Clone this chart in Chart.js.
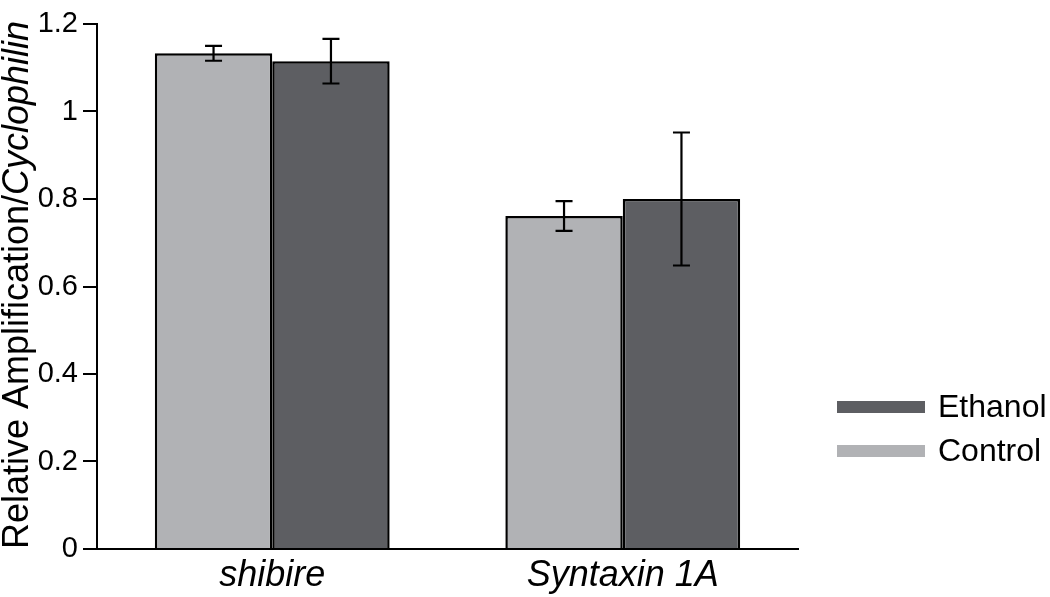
<!DOCTYPE html>
<html>
<head>
<meta charset="utf-8">
<script src="https://cdn.jsdelivr.net/npm/chart.js@4/dist/chart.umd.min.js"></script>
<style>
  html, body { margin: 0; padding: 0; background: #fff; }
  #wrap { width: 1050px; height: 597px; position: relative; }
</style>
</head>
<body>
<div id="wrap"><canvas id="chart"></canvas></div>
<script>
// values
const genes = ["shibire", "Syntaxin 1A"];
const controlMean = [1.133, 0.761];
const controlErr = [0.017, 0.034];
const ethanolMean = [1.115, 0.800];
const ethanolErr = [0.051, 0.152];
const yTicks = [0, 0.2, 0.4, 0.6, 0.8, 1, 1.2];

const FONT = "'Liberation Sans', Arial, Helvetica, sans-serif";
const lightGray = "#b1b2b5";
const darkGray = "#5d5e62";

// error bars drawn on top of each bar
const errorBars = {
  id: "errorBars",
  afterDatasetsDraw(chart) {
    const ctx = chart.ctx;
    const y = chart.scales.y;
    chart.data.datasets.forEach((ds, i) => {
      const meta = chart.getDatasetMeta(i);
      meta.data.forEach((bar, j) => {
        const m = ds.data[j], e = ds.errors[j];
        const top = y.getPixelForValue(m + e);
        const bot = y.getPixelForValue(m - e);
        ctx.save();
        ctx.strokeStyle = "#000";
        ctx.lineWidth = 2.2;
        ctx.beginPath();
        ctx.moveTo(bar.x, top); ctx.lineTo(bar.x, bot);
        ctx.moveTo(bar.x - 8.5, top); ctx.lineTo(bar.x + 8.5, top);
        ctx.moveTo(bar.x - 8.5, bot); ctx.lineTo(bar.x + 8.5, bot);
        ctx.stroke();
        ctx.restore();
      });
    });
  }
};

// y title with italic "Cyclophilin", and the line-swatch legend
const extras = {
  id: "extras",
  afterDraw(chart) {
    const ctx = chart.ctx;
    ctx.save();
    // y axis title
    const part1 = "Relative Amplification/";
    const part2 = "Cyclophilin";
    ctx.translate(28, 285);
    ctx.rotate(-Math.PI / 2);
    ctx.fillStyle = "#000";
    ctx.textBaseline = "alphabetic";
    ctx.font = "36px " + FONT;
    const w1 = ctx.measureText(part1).width;
    ctx.font = "italic 36px " + FONT;
    const w2 = ctx.measureText(part2).width;
    let x0 = -(w1 + w2) / 2;
    ctx.font = "36px " + FONT;
    ctx.fillText(part1, x0, 0);
    ctx.font = "italic 36px " + FONT;
    ctx.fillText(part2, x0 + w1, 0);
    ctx.restore();

    // legend, Ethanol above Control
    ctx.save();
    const items = chart.data.datasets.slice().reverse();
    items.forEach((ds, k) => {
      const cy = 407 + k * 44;
      ctx.fillStyle = ds.backgroundColor;
      ctx.fillRect(837, cy - 6, 88, 12);
      ctx.fillStyle = "#000";
      ctx.font = "32px " + FONT;
      ctx.textBaseline = "alphabetic";
      ctx.fillText(ds.label, 938, cy + 10);
    });
    ctx.restore();
  }
};

new Chart(document.getElementById("chart"), {
  type: "bar",
  data: {
    labels: genes,
    datasets: [
      { label: "Control", data: controlMean, errors: controlErr,
        backgroundColor: lightGray, borderColor: "#000", borderWidth: 2.5, borderSkipped: "bottom" },
      { label: "Ethanol", data: ethanolMean, errors: ethanolErr,
        backgroundColor: darkGray, borderColor: "#000", borderWidth: 2.5, borderSkipped: "bottom" }
    ]
  },
  options: {
    responsive: true,
    maintainAspectRatio: false,
    animation: false,
    layout: { padding: { left: 0, right: 252, top: 24, bottom: 0 } },
    datasets: { bar: { categoryPercentage: 0.67, barPercentage: 1.0 } },
    plugins: { legend: { display: false }, tooltip: { enabled: false } },
    scales: {
      x: {
        grid: { display: false, drawTicks: false },
        border: { color: "#000", width: 2 },
        ticks: { color: "#000", font: { family: FONT, size: 36, style: "italic" }, padding: 5 },
        afterFit(s) { s.height = 48; }
      },
      y: {
        min: 0, max: 1.2,
        afterBuildTicks(s) { s.ticks = yTicks.map(v => ({ value: v })); },
        grid: { drawOnChartArea: false, drawTicks: true, tickLength: 14, color: "#000", lineWidth: 2 },
        border: { color: "#000", width: 2 },
        ticks: { color: "#000", font: { family: FONT, size: 29 }, padding: 5,
          callback: v => String(+v.toFixed(1)) },
        afterFit(s) { s.width = 97; }
      }
    }
  },
  plugins: [errorBars, extras]
});
</script>
</body>
</html>
